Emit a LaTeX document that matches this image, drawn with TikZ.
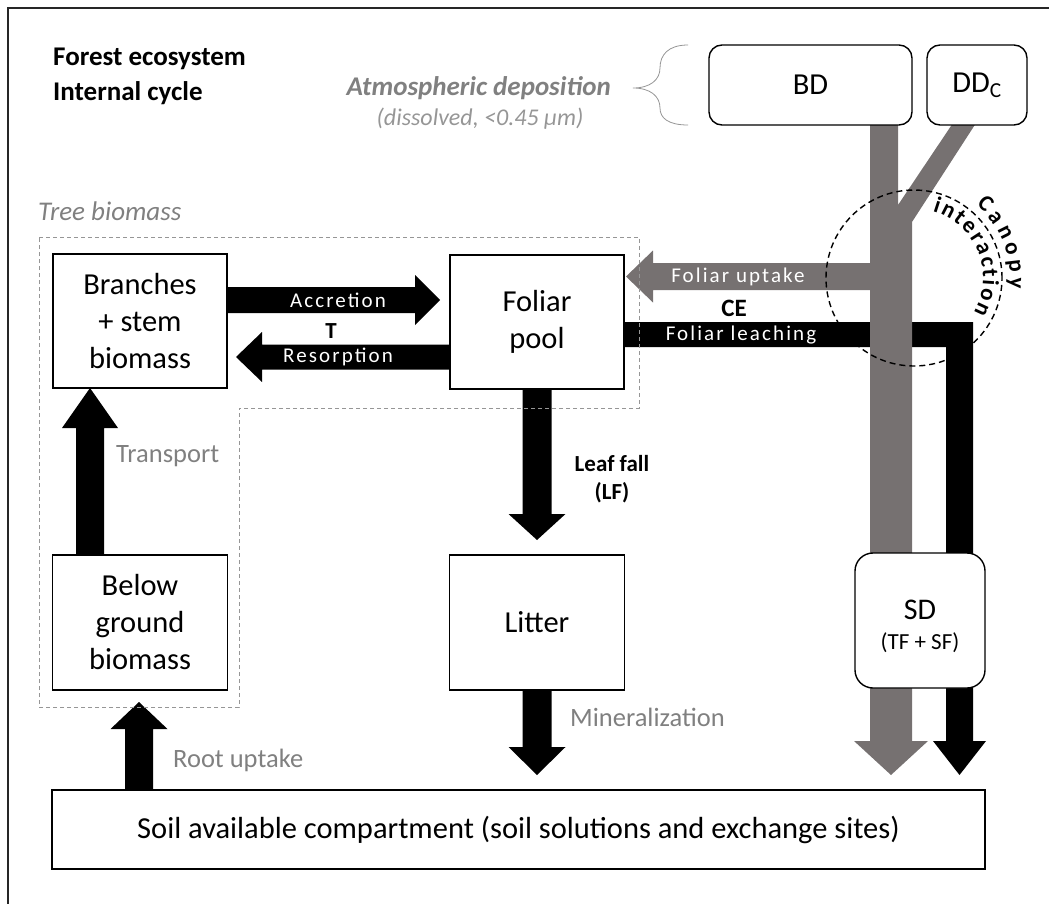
\documentclass[tikz,border=0pt]{standalone}
\usepackage{fontspec}
\setmainfont{Carlito}
\newfontfamily\spacedfont[LetterSpace=10]{Carlito}
\usetikzlibrary{calc}
\definecolor{fgrey}{RGB}{118,113,113}
\definecolor{lgrey}{RGB}{128,128,128}
\definecolor{dgrey}{RGB}{150,150,150}
\newcommand\fatarrow[6]{%
 \fill[#1] let \p1=(#2), \p2=(#3), \n1={atan2(\y2-\y1,\x2-\x1)} in
   ($(\p1)+(\n1+90:#4)$) -- ($(\p2)+(\n1+180:#6)+(\n1+90:#4)$) --
   ($(\p2)+(\n1+180:#6)+(\n1+90:#5)$) -- (\p2) --
   ($(\p2)+(\n1+180:#6)+(\n1-90:#5)$) -- ($(\p2)+(\n1+180:#6)+(\n1-90:#4)$) --
   ($(\p1)+(\n1-90:#4)$) -- cycle;}
\begin{document}
\begin{tikzpicture}[x=1pt,y=-1pt,
  box/.style={draw, line width=1.4pt, fill=white, align=center, inner sep=0pt,
    font=\fontsize{30.5}{37}\selectfont},
  rbox/.style={box, rounded corners=13pt},
  glabel/.style={text=lgrey, font=\fontsize{26.5}{30}\selectfont, inner sep=0pt},
  alabel/.style={text=white, font=\fontsize{21}{24}\spacedfont, inner sep=0pt},
  blabel/.style={font=\fontsize{23}{28}\selectfont\bfseries, inner sep=0pt, align=center},
  cletter/.style={font=\fontsize{23}{25}\selectfont\bfseries, inner sep=0pt, anchor=base}]
\useasboundingbox (0,0) rectangle (1049,904);
% outer frame (cut on right and bottom)
\draw[line width=2pt, black!85] (1049,8) -- (8,8) -- (8,904);

% nodes
\node[box, minimum width=174pt, minimum height=134pt] (br) at (140,321) {Branches\\+ stem\\biomass};
\node[box, minimum width=174pt, minimum height=134pt] (fp) at (537,322) {Foliar\\pool};
\node[box, minimum width=175pt, minimum height=135pt] (bg) at (140,622.5) {Below\\ground\\biomass};
\node[box, minimum width=175pt, minimum height=135pt] (lit) at (537,622.5) {Litter};
\node[box, minimum width=933pt, minimum height=79pt] (soil) at (518.5,829.5) {Soil available compartment (soil solutions and exchange sites)};

% coordinates for arrow ends
\coordinate (accS) at (227,300);
\coordinate (accE) at (440,300);
\coordinate (resS) at (450,357);
\coordinate (resE) at (236,357);
\coordinate (lfS) at (fp.south);
\coordinate (lfE) at (537,540);
\coordinate (minS) at (lit.south);
\coordinate (minE) at (537,775);
\coordinate (ruS) at (139,790);
\coordinate (ruE) at (139,702);
\coordinate (trS) at (90,555.5);
\coordinate (trE) at (90,388);
\coordinate (fuS) at (880,276.5);
\coordinate (fuE) at (626,276.5);

% black foliar leaching path to soil
\fill[black] (624,322) -- (973,322) -- (973,741) -- (986,741) -- (959.5,775)
  -- (933,741) -- (946,741) -- (946,347) -- (624,347) -- cycle;
% grey deposition path
\fill[fgrey] (870,120) -- (898,120) -- (898,205) -- (955,120) -- (978,120) -- (912,222)
  -- (912,741) -- (928,741) -- (891,775) -- (854,741) -- (870,741) -- cycle;
\fatarrow{fgrey}{fuS}{fuE}{13.5pt}{26pt}{27pt}

% black arrows
\fatarrow{black}{accS}{accE}{13pt}{25pt}{25pt}
\fatarrow{black}{resS}{resE}{12.5pt}{25pt}{26pt}
\fatarrow{black}{lfS}{lfE}{14.5pt}{28.5pt}{26pt}
\fatarrow{black}{minS}{minE}{14.5pt}{28.5pt}{28pt}
\fatarrow{black}{ruS}{ruE}{14pt}{28.5pt}{27pt}
\fatarrow{black}{trS}{trE}{14pt}{28pt}{40pt}

% arrow labels
\node[alabel] at (338,300) {Accretion};
\node[alabel] at (338,357) {Resorption};
\node[alabel] at (738,277) {Foliar uptake};
\node[alabel] at (741,335) {Foliar leaching};
\node[blabel] at (331,331) {T};
\node[blabel, font=\fontsize{25}{28}\selectfont\bfseries] at (734,308) {CE};
\node[blabel] at (612,479) {Leaf fall\\(LF)};
\node[glabel, anchor=west] at (116,456) {Transport};
\node[glabel, anchor=west] at (173,760) {Root uptake};
\node[glabel, anchor=west] at (570,717) {Mineralization};

% top boxes
\node[rbox, minimum width=203pt, minimum height=80pt] (bd) at (810.5,85) {BD};
\node[rbox, minimum width=100pt, minimum height=80pt] (ddc) at (977,85) {DD\textsubscript{C}};
\node[rbox, rounded corners=18pt, minimum width=130pt, minimum height=135pt] (sd) at (920,620.5) {};
\node[font=\fontsize{30}{32}\selectfont, inner sep=0pt] at (920,610) {SD};
\node[font=\fontsize{23}{26}\selectfont, inner sep=0pt] at (920,643) {(TF + SF)};

% tree biomass region
\draw[dgrey, line width=0.9pt, dash pattern=on 4pt off 3pt]
  (39,237) -- (639,237) -- (639,408) -- (239,408) -- (239,707) -- (39,707) -- cycle;
\node[glabel, anchor=west, font=\fontsize{27}{30}\selectfont\itshape] at (38,211) {Tree biomass};

% canopy interaction
\coordinate (cc) at (914,278);
\draw[line width=1.4pt, dash pattern=on 6pt off 4pt] (cc) circle[radius=88pt];
\foreach \ch/\a in {C/46,a/36.34,n/26.63,o/16.63,p/6.64,y/-2.94}
  \node[cletter, rotate=\a-90] at ([shift={(\a:96pt)}]cc) {\ch};
\foreach \ch/\a in {i/72,n/62.78,t/52.65,e/42.81,r/32.91,a/23.08,c/12.69,t/3.61,i/-3.90,o/-13.13,n/-24.98}
  \node[cletter, rotate=\a-90] at ([shift={(\a:69pt)}]cc) {\ch};

% titles
\node[anchor=west, font=\fontsize{27}{30}\selectfont\bfseries, inner sep=0pt] at (53,59) {Forest ecosystem};
\node[anchor=west, font=\fontsize{27}{30}\selectfont\bfseries, inner sep=0pt] at (53,93) {Internal cycle};
\node[anchor=east, text=lgrey, font=\fontsize{27}{30}\selectfont\bfseries\itshape, inner sep=0pt] at (611,88) {Atmospheric deposition};
\node[text=dgrey, font=\fontsize{24}{26}\selectfont\itshape, inner sep=0pt] at (480,119) {(dissolved, <0.45 µm)};
% brace
\coordinate (brT) at (688,45);
\coordinate (brB) at (688,125);
\draw[dgrey, line width=0.8pt] (brT) .. controls (668,45) and (660,55) .. (660,68)
  .. controls (660,80) and (650,88) .. (633,88)
  .. controls (650,88) and (660,96) .. (660,108)
  .. controls (660,118) and (668,125) .. (brB);
\end{tikzpicture}
\end{document}
